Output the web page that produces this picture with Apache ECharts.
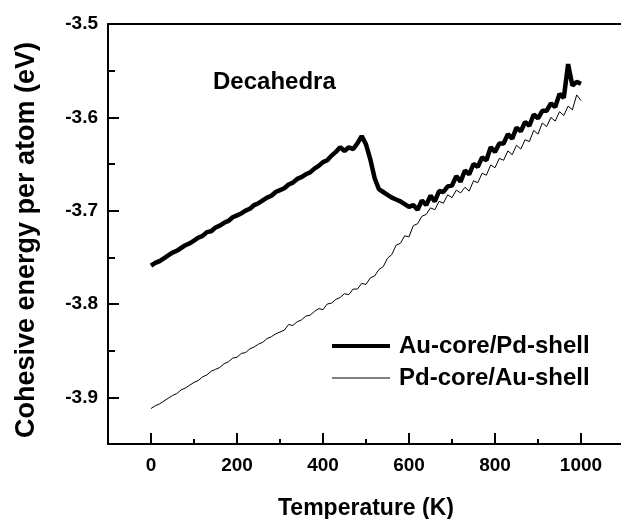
<!DOCTYPE html>
<html>
<head>
<meta charset="utf-8">
<script src="https://cdn.jsdelivr.net/npm/echarts@6/dist/echarts.min.js"></script>
<style>
html,body{margin:0;padding:0;background:#fff;}
#c{width:621px;height:519px;}
</style>
</head>
<body>
<div id="c"></div>
<script>
var temps = [0,10,20,30,40,50,60,70,80,90,100,110,120,130,140,150,160,170,180,190,200,210,220,230,240,250,260,270,280,290,300,310,320,330,340,350,360,370,380,390,400,410,420,430,440,450,460,470,480,490,500,510,520,530,540,550,560,570,580,590,600,610,620,630,640,650,660,670,680,690,700,710,720,730,740,750,760,770,780,790,800,810,820,830,840,850,860,870,880,890,900,910,920,930,940,950,960,970,980,990,1000];

var auCorePdShell = [-3.759,-3.756,-3.754,-3.751,-3.748,-3.745,-3.743,-3.740,-3.737,-3.735,
-3.732,-3.729,-3.727,-3.723,-3.722,-3.718,-3.716,-3.713,-3.711,-3.707,
-3.705,-3.703,-3.700,-3.698,-3.694,-3.692,-3.689,-3.686,-3.684,-3.680,
-3.678,-3.676,-3.672,-3.670,-3.666,-3.664,-3.661,-3.659,-3.655,-3.652,
-3.648,-3.646,-3.641,-3.637,-3.632,-3.636,-3.632,-3.634,-3.628,-3.620,
-3.629,-3.645,-3.665,-3.677,-3.680,-3.683,-3.686,-3.688,-3.690,-3.693,
-3.696,-3.694,-3.699,-3.689,-3.694,-3.684,-3.690,-3.679,-3.680,-3.674,
-3.673,-3.663,-3.669,-3.657,-3.661,-3.650,-3.653,-3.643,-3.646,-3.632,
-3.637,-3.628,-3.628,-3.618,-3.623,-3.611,-3.615,-3.605,-3.609,-3.597,
-3.601,-3.593,-3.593,-3.585,-3.589,-3.575,-3.579,-3.543,-3.566,-3.562,-3.564];

var pdCoreAuShell = [-3.912,-3.909,-3.907,-3.904,-3.901,-3.898,-3.896,-3.892,-3.890,-3.887,
-3.884,-3.882,-3.878,-3.876,-3.872,-3.870,-3.868,-3.864,-3.862,-3.858,
-3.857,-3.853,-3.852,-3.848,-3.846,-3.843,-3.841,-3.837,-3.835,-3.832,
-3.830,-3.828,-3.822,-3.823,-3.819,-3.817,-3.813,-3.812,-3.808,-3.805,
-3.806,-3.800,-3.799,-3.795,-3.793,-3.789,-3.790,-3.784,-3.784,-3.778,
-3.779,-3.772,-3.770,-3.763,-3.760,-3.751,-3.747,-3.737,-3.735,-3.727,
-3.728,-3.716,-3.714,-3.706,-3.704,-3.697,-3.699,-3.690,-3.692,-3.683,
-3.686,-3.678,-3.681,-3.675,-3.679,-3.668,-3.670,-3.660,-3.662,-3.651,
-3.654,-3.644,-3.646,-3.636,-3.640,-3.630,-3.634,-3.624,-3.626,-3.614,
-3.618,-3.606,-3.610,-3.600,-3.604,-3.594,-3.598,-3.588,-3.592,-3.576,-3.582];

var xMajorTicks = [0,200,400,600,800,1000];
var yMajorTicks = [-3.9,-3.8,-3.7,-3.6,-3.5];
var seriesNames = ['Au-core/Pd-shell','Pd-core/Au-shell'];

function pairs(xs, ys){ return xs.map(function(x,i){ return [x, ys[i]]; }); }

var FONT = '"Liberation Sans", Arial, sans-serif';
var chart = echarts.init(document.getElementById('c'), null, {renderer:'canvas'});
chart.setOption({
  backgroundColor:'#fff',
  animation:false,
  grid:{left:108, top:24, bottom:75, right:-3, containLabel:false, outerBoundsMode:'none'},
  graphic:[{
    type:'text', left:213, top:70,
    style:{text:'Decahedra', font:'bold 24px ' + FONT, fill:'#000'}
  }],
  legend:{
    orient:'vertical', left:330, top:334, itemWidth:58, itemHeight:20, itemGap:8, padding:0,
    data:[
      {name:seriesNames[0], lineStyle:{width:4, color:'#000'}, itemStyle:{opacity:0}},
      {name:seriesNames[1], lineStyle:{width:1, color:'#000'}, itemStyle:{opacity:0}}
    ],
    textStyle:{fontFamily:FONT, fontWeight:'bold', fontSize:24, color:'#000', padding:[0,0,0,4]}
  },
  xAxis:[{
    type:'value', min:-100, max:1100, interval:100, position:'bottom',
    name:'Temperature (K)', nameLocation:'middle', nameGap:53,
    nameTextStyle:{fontFamily:FONT, fontWeight:'bold', fontSize:23, color:'#000'},
    axisLine:{show:true, onZero:false, lineStyle:{color:'#000', width:2}},
    axisTick:{show:true, inside:true, length:5, lineStyle:{color:'#000', width:2}},
    axisLabel:{customValues:xMajorTicks, margin:12, fontFamily:FONT, fontWeight:'bold', fontSize:19, color:'#000',
      formatter:function(v){ return String(v); }},
    splitLine:{show:false}
  },{
    type:'value', min:-100, max:1100, position:'bottom',
    axisLine:{show:false, onZero:false},
    axisTick:{show:true, inside:true, length:11, customValues:xMajorTicks, lineStyle:{color:'#000', width:2}},
    axisLabel:{show:false}, splitLine:{show:false}
  },{
    type:'value', min:-100, max:1100, position:'top',
    axisLine:{show:true, onZero:false, lineStyle:{color:'#000', width:2}},
    axisTick:{show:false}, axisLabel:{show:false}, splitLine:{show:false}
  }],
  yAxis:[{
    type:'value', min:-3.95, max:-3.5, interval:0.05, position:'left',
    name:'Cohesive energy per atom (eV)', nameLocation:'middle', nameGap:68,
    nameTextStyle:{fontFamily:FONT, fontWeight:'bold', fontSize:27, color:'#000', padding:[0,12,0,0]},
    axisLine:{show:true, onZero:false, lineStyle:{color:'#000', width:2}},
    axisTick:{show:true, inside:true, length:7, lineStyle:{color:'#000', width:2}},
    axisLabel:{customValues:yMajorTicks, margin:10, fontFamily:FONT, fontWeight:'bold', fontSize:19, color:'#000',
      formatter:function(v){ return v.toFixed(1); }},
    splitLine:{show:false}
  },{
    type:'value', min:-3.95, max:-3.5, position:'left',
    axisLine:{show:false, onZero:false},
    axisTick:{show:true, inside:true, length:11, customValues:yMajorTicks, lineStyle:{color:'#000', width:2}},
    axisLabel:{show:false}, splitLine:{show:false}
  }],
  series:[{
    name:seriesNames[0], type:'line', xAxisIndex:0, yAxisIndex:0,
    data:pairs(temps, auCorePdShell), symbol:'none',
    lineStyle:{color:'#000', width:4.5}, itemStyle:{color:'#000'}
  },{
    name:seriesNames[1], type:'line', xAxisIndex:0, yAxisIndex:0,
    data:pairs(temps, pdCoreAuShell), symbol:'none',
    lineStyle:{color:'#000', width:1}, itemStyle:{color:'#000'}
  }]
});
</script>
</body>
</html>
